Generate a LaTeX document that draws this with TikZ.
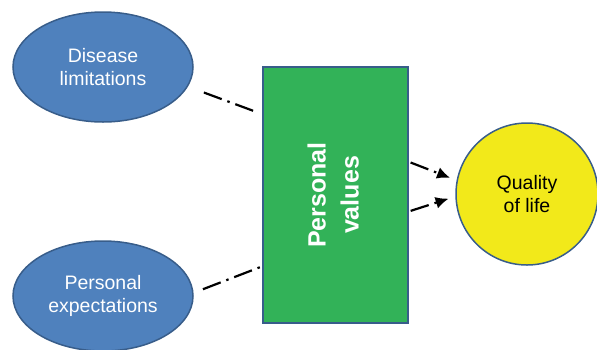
\documentclass[tikz,border=0pt]{standalone}
\usepackage{fontspec}
\setmainfont{Liberation Sans}
\usepackage{tikz}
\usetikzlibrary{shapes.geometric, arrows.meta, positioning, calc}
\definecolor{ovalblue}{RGB}{79,129,189}
\definecolor{edgeblue}{RGB}{56,93,138}
\definecolor{boxgreen}{RGB}{50,178,88}
\definecolor{lifeyellow}{RGB}{242,233,26}

\begin{document}
\begin{tikzpicture}[
    x=1pt, y=-1pt,
    oval/.style={ellipse, draw=edgeblue, line width=1.5pt, fill=ovalblue, minimum width=180pt, minimum height=110pt, inner sep=0pt, align=center, text=white, font=\fontsize{19.5}{23}\selectfont},
    valbox/.style={rectangle, draw=edgeblue, line width=1.5pt, fill=boxgreen, minimum width=145pt, minimum height=256pt, inner sep=0pt, text=white, font=\bfseries\fontsize{25}{33}\selectfont},
    lifecircle/.style={circle, draw=edgeblue, line width=1.5pt, fill=lifeyellow, minimum size=142pt, inner sep=0pt, align=center, font=\fontsize{19.5}{23}\selectfont},
    link/.style={line width=2.2pt, dash pattern=on 19pt off 6pt on 2.5pt off 6pt},
    arrow/.style={link, -{Latex[length=13pt, width=12pt]}}
]
    \useasboundingbox (0,0) rectangle (597,349);

    \node[oval] (disease) at (103,67) {Disease\\limitations};
    \node[oval] (expect) at (103,296) {Personal\\expectations};
    \node[valbox] (values) at (335.5,195) {\rotatebox{90}{\begin{tabular}{@{}c@{}}Personal\\values\end{tabular}}};
    \node[lifecircle] (life) at (527,194) {Quality\\of life};

    \draw[link, shorten <=17pt, shorten >=7pt] (disease.-13) -- ($(values.north west)!0.186!(values.south west)$);
    \draw[link, shorten <=10pt, shorten >=0pt] (expect.2) -- ($(values.north west)!0.777!(values.south west)$);
    \draw[arrow, shorten <=2pt, shorten >=7pt] ($(values.north east)!0.371!(values.south east)$) -- (life.169);
    \draw[arrow, shorten <=2pt, shorten >=7pt] ($(values.north east)!0.564!(values.south east)$) -- (life.182);
\end{tikzpicture}
\end{document}
